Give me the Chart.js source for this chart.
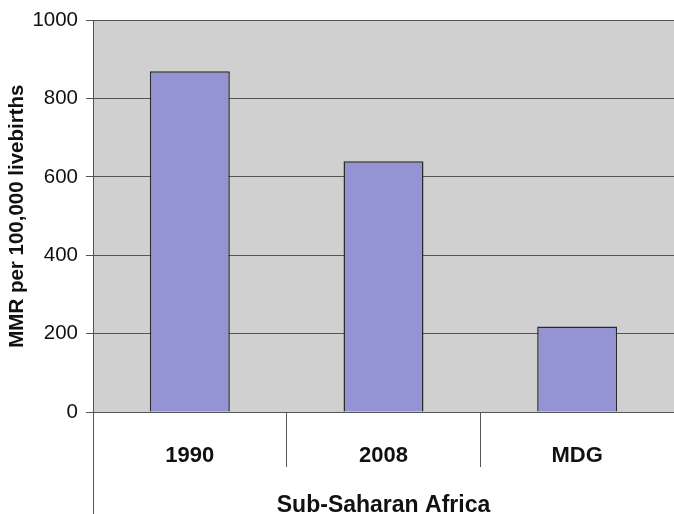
<!DOCTYPE html>
<html>
<head>
<meta charset="utf-8">
<script src="https://cdn.jsdelivr.net/npm/chart.js@4.4.1/dist/chart.umd.min.js"></script>
<style>
  html, body { margin: 0; padding: 0; background: #fff; }
  #wrap { position: relative; width: 674px; height: 514px; }
</style>
</head>
<body>
<div id="wrap"><canvas id="chart"></canvas></div>
<script>
// Maternal mortality ratio, Sub-Saharan Africa
const categories = ['1990', '2008', 'MDG'];
const mmrValues = [870, 640, 218];
const yTicks = [0, 200, 400, 600, 800, 1000];

const plotBg = '#cfd0cf';
const barFill = '#9494d4';
const lineColor = '#555';
const font = 'Arial, "Liberation Sans", sans-serif';

// grey plot background + left axis line that runs down past the category band
const framePlugin = {
  id: 'frame',
  beforeDraw(chart) {
    const a = chart.chartArea;
    const ctx = chart.ctx;
    ctx.save();
    ctx.fillStyle = plotBg;
    ctx.fillRect(a.left, a.top, a.right - a.left, a.bottom - a.top);
    ctx.restore();
  },
  afterDraw(chart) {
    const a = chart.chartArea;
    const ctx = chart.ctx;
    ctx.save();
    ctx.strokeStyle = lineColor;
    ctx.lineWidth = 1;
    ctx.beginPath();
    ctx.moveTo(a.left + 0.5, a.bottom);
    ctx.lineTo(a.left + 0.5, chart.height);
    ctx.stroke();
    ctx.restore();
  }
};

new Chart(document.getElementById('chart'), {
  type: 'bar',
  data: {
    labels: categories,
    datasets: [{
      data: mmrValues,
      backgroundColor: barFill,
      borderColor: '#2a2a2a',
      borderWidth: 1.5,
      categoryPercentage: 1,
      barPercentage: 0.413
    }]
  },
  options: {
    responsive: true,
    maintainAspectRatio: false,
    animation: false,
    layout: { padding: { top: 20, right: 0, left: 0, bottom: 0 } },
    plugins: {
      legend: { display: false },
      tooltip: { enabled: false }
    },
    scales: {
      x: {
        offset: true,
        afterFit(scale) { scale.height = 102; },
        grid: {
          offset: true,
          drawOnChartArea: false,
          tickLength: 55,
          // separators between categories only; the left edge is the frame line
          tickColor: (c) => (c.type === 'tick' && c.index > 0) ? lineColor : 'rgba(0,0,0,0)',
          tickWidth: 1
        },
        border: { display: true, color: lineColor, width: 1 },
        ticks: {
          padding: -24,
          color: '#111',
          font: { family: font, size: 22, weight: 'bold' }
        },
        title: {
          display: true,
          text: 'Sub-Saharan Africa',
          color: '#111',
          font: { family: font, size: 23, weight: 'bold' },
          padding: { top: 0, bottom: -5 }
        }
      },
      y: {
        min: 0,
        max: 1000,
        afterFit(scale) { scale.width = 93; },
        afterBuildTicks(scale) {
          scale.ticks = yTicks.map(v => ({ value: v }));
        },
        grid: {
          color: lineColor,
          lineWidth: 1,
          tickLength: 7,
          tickColor: lineColor
        },
        border: { display: true, color: lineColor, width: 1 },
        ticks: {
          padding: 8,
          color: '#111',
          font: { family: font, size: 20.5 },
          callback: (v) => String(v)
        },
        title: {
          display: true,
          text: 'MMR per 100,000 livebirths',
          color: '#111',
          font: { family: font, size: 20.5, weight: 'bold' },
          padding: { top: 5, bottom: 0 }
        }
      }
    }
  },
  plugins: [framePlugin]
});
</script>
</body>
</html>
